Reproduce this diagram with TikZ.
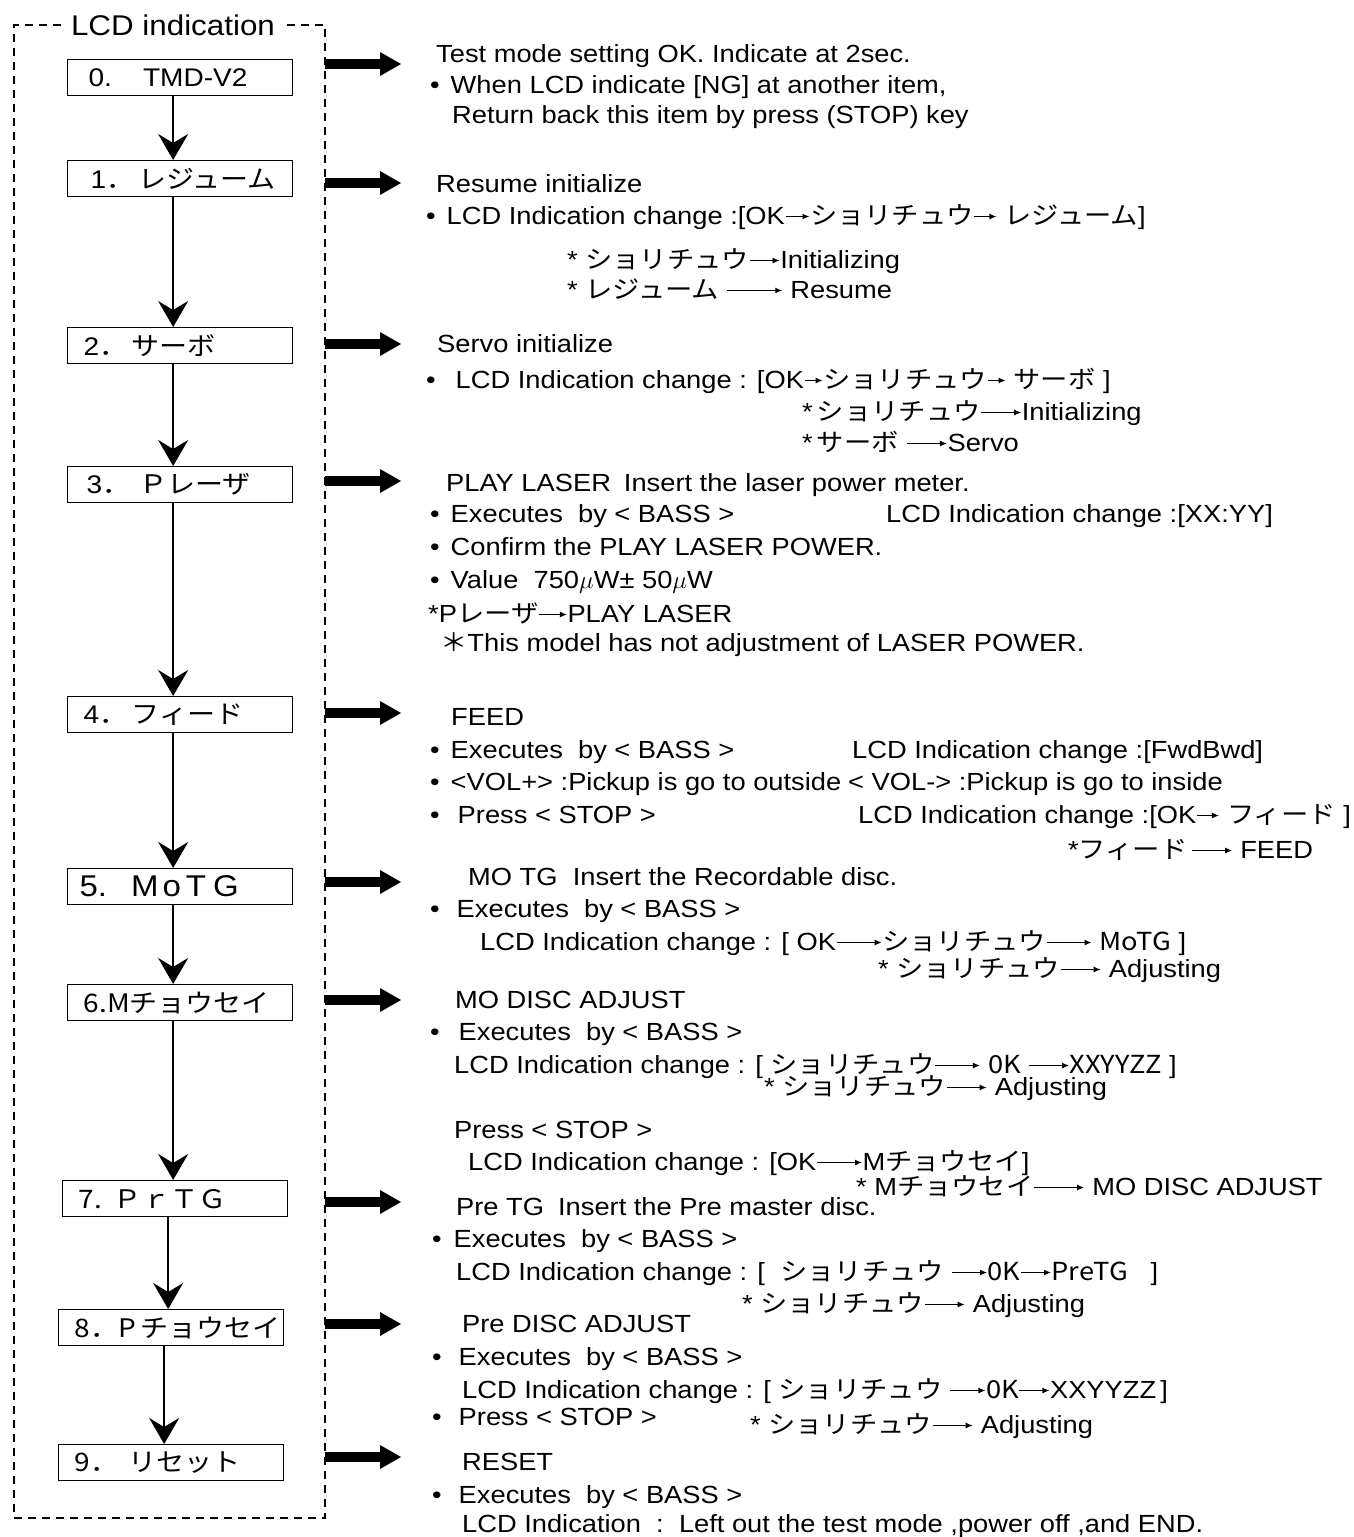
\documentclass[tikz,border=0pt]{standalone}
\usepackage{fontspec}
\setmainfont{Liberation Sans}[FakeStretch=1.1]
\newfontfamily\jpfont{Noto Sans CJK JP}[FakeStretch=1.1]
\usepackage{tikz}
\usetikzlibrary{arrows.meta}
\newcommand{\kana}[1]{{\jpfont #1}}
\newcommand{\lcdto}[1][20pt]{%
  \tikz[baseline=-7.5pt]\draw[
    line width=1.2pt,
    -{Latex[length=7pt,width=6pt]}
  ] (0pt,0pt) -- (#1,0pt);%
}
\tikzset{
  txt/.style={anchor=base west, inner sep=0pt, font=\fontsize{24.8}{28}\selectfont},
  lcdbox/.style={draw, line width=1.3pt, anchor=north west, minimum height=36pt,
    text width=193pt, inner xsep=16pt, inner ysep=0pt, align=left,
    font=\fontsize{25.5}{28}\selectfont},
  flow/.style={line width=2pt, -{Stealth[length=26pt, width=30pt, inset=9pt]}},
  fatarrow/.style={line width=10pt, -{Triangle[length=21pt, width=24pt, line width=0pt]}},
  frame/.style={line width=2.5pt, dash pattern=on 8pt off 6pt}
}

\begin{document}
\begin{tikzpicture}[x=1pt, y=-1pt]
  \useasboundingbox (0,0) rectangle (1353,1537);

  \node[inner xsep=10pt, inner ysep=0pt, font=\fontsize{28.5}{30}\selectfont] (title) at (173,25) {LCD indication};
  \draw[frame] (title.west) -- (14,25) -- (14,1518) -- (325,1518) -- (325,25) -- (title.east);

  \node[lcdbox] (b0) at (67,59) {\hspace*{5pt}0.\hspace{31pt}TMD-V2};
  \node[lcdbox] (b1) at (67,160) {\hspace*{7pt}1\kana{．\,レジューム}};
  \node[lcdbox] (b2) at (67,327) {2\kana{．\,サーボ}};
  \node[lcdbox] (b3) at (67,466) {\hspace*{3pt}3\kana{．\hspace{9pt}Ｐレーザ}};
  \node[lcdbox] (b4) at (67,696) {4\kana{．\,フィード}};
  \node[lcdbox, font=\fontsize{30}{32}\selectfont] (b5) at (67,868) {\hspace*{-4pt}5.\hspace{24pt}M\hspace{4pt}o\hspace{5pt}T\hspace{7pt}G};
  \node[lcdbox] (b6) at (67,984) {\kana{6.Mチョウセイ}};
  \node[lcdbox] (b7) at (62,1180) {\kana{7.\hspace{12pt}ＰｒＴＧ}};
  \node[lcdbox] (b8) at (58,1309) {\kana{8．P\,チョウセイ}};
  \node[lcdbox] (b9) at (58,1444) {\kana{9．\hspace{10pt}リセット}};

  \foreach \a/\b in {b0/b1,b1/b2,b2/b3,b3/b4,b4/b5,b5/b6,b6/b7,b7/b8,b8/b9}
    \draw[flow] ([xshift=-7pt]\a.south) -- ([xshift=-7pt]\a.south |- \b.north);

  \foreach \y [count=\i from 0] in {64,183,344,481,713,882,1000,1202,1324,1457} {
    \coordinate (s\i) at (325,\y);
    \draw[fatarrow] (s\i) -- ++(76,0);
  }

  \node[txt] (t0a) at (436,62) {Test mode setting OK. Indicate at 2sec.};
  \node[txt] (t0b) at (430,93) {•\hspace{11pt}When LCD indicate [NG] at another item,};
  \node[txt] (t0c) at (452,123) {Return back this item by press (STOP) key};

  \node[txt] (t1a) at (436,192) {Resume initialize};
  \node[txt] (t1b) at (426,224) {•\hspace{11pt}LCD Indication change :[OK\lcdto[24pt]\kana{ショリチュウ}\lcdto[22pt]\ \kana{レジューム}]};
  \node[txt] (t1c) at (567,268) {*\ \kana{ショリチュウ}\lcdto[30pt]Initializing};
  \node[txt] (t1d) at (567,298) {*\ \kana{レジューム}\ \lcdto[55pt]\ Resume};

  \node[txt] (t2a) at (437,352) {Servo initialize};
  \node[txt] (t2b) at (426,388) {•\hspace{20pt}LCD Indication change : [OK\lcdto[18pt]\kana{ショリチュウ}\lcdto[18pt]\ \kana{サーボ}\ ]};
  \node[txt] (t2c) at (802,420) {*\,\kana{ショリチュウ}\lcdto[40pt]Initializing};
  \node[txt] (t2d) at (802,451) {*\,\kana{サーボ}\ \lcdto[40pt]Servo};

  \node[txt] (t3a) at (446,491) {PLAY LASER\hspace{13pt}Insert the laser power meter.};
  \node[txt] (t3b) at (430,522) {•\hspace{11pt}Executes\ \ by < BASS >};
  \node[txt] (t3c) at (886,522) {LCD Indication change :[XX:YY]};
  \node[txt] (t3d) at (430,555) {•\hspace{11pt}Confirm the PLAY LASER POWER.};
  \node[txt] (t3e) at (430,588) {•\hspace{11pt}Value\ \ 750$\mu$W± 50$\mu$W};
  \node[txt] (t3f) at (428,622) {*P\kana{レーザ}\lcdto[28pt]PLAY LASER};
  \node[txt] (t3g) at (440,651) {\kana{＊}This model has not adjustment of LASER POWER.};

  \node[txt] (t4a) at (451,725) {FEED};
  \node[txt] (t4b) at (430,758) {•\hspace{11pt}Executes\ \ by < BASS >};
  \node[txt] (t4c) at (852,758) {LCD Indication change :[FwdBwd]};
  \node[txt] (t4d) at (430,790) {•\hspace{11pt}<VOL+> :Pickup is go to outside};
  \node[txt] (t4e) at (848,790) {< VOL-> :Pickup is go to inside};
  \node[txt] (t4f) at (430,823) {•\hspace{18pt}Press < STOP >};
  \node[txt] (t4g) at (858,823) {LCD Indication change :[OK\lcdto[22pt]\ \kana{フィード}\ ]};
  \node[txt] (t4h) at (1068,858) {*\kana{フィード}\,\lcdto[40pt]\ FEED};

  \node[txt] (t5a) at (468,885) {MO TG\ \ Insert the Recordable disc.};
  \node[txt] (t5b) at (430,917) {•\hspace{17pt}Executes\ \ by < BASS >};
  \node[txt] (t5c) at (480,950) {LCD Indication change : [ OK\lcdto[45pt]\kana{ショリチュウ}\lcdto[45pt]\ \kana{MoTG}\ ]};
  \node[txt] (t5d) at (878,977) {*\ \kana{ショリチュウ}\lcdto[40pt]\ Adjusting};

  \node[txt] (t6a) at (455,1008) {MO DISC ADJUST};
  \node[txt] (t6b) at (430,1040) {•\hspace{19pt}Executes\ \ by < BASS >};
  \node[txt] (t6c) at (454,1073) {LCD Indication change : [ \kana{ショリチュウ}\lcdto[45pt]\ \kana{0K}\ \lcdto[40pt]\kana{XXYYZZ}\ ]};
  \node[txt] (t6d) at (764,1095) {*\ \kana{ショリチュウ}\lcdto[40pt]\ Adjusting};
  \node[txt] (t6e) at (454,1138) {Press < STOP >};
  \node[txt] (t6f) at (468,1170) {LCD Indication change : [OK\lcdto[45pt]M\kana{チョウセイ}]};
  \node[txt] (t6g) at (856,1195) {*\ M\kana{チョウセイ}\lcdto[50pt]\ MO DISC ADJUST};

  \node[txt] (t7a) at (456,1215) {Pre TG\hspace{14pt}Insert the Pre master disc.};
  \node[txt] (t7b) at (432,1247) {•\hspace{12pt}Executes\ \ by < BASS >};
  \node[txt] (t7c) at (456,1280) {LCD Indication change : [\ \ \kana{ショリチュウ}\ \lcdto[35pt]\kana{0K}\lcdto[30pt]\kana{PreTG}\ \ \ ]};
  \node[txt] (t7d) at (742,1312) {*\ \kana{ショリチュウ}\lcdto[40pt]\ Adjusting};

  \node[txt] (t8a) at (462,1332) {Pre DISC ADJUST};
  \node[txt] (t8b) at (432,1365) {•\hspace{17pt}Executes\ \ by < BASS >};
  \node[txt] (t8c) at (462,1398) {LCD Indication change : [\ \kana{ショリチュウ}\ \lcdto[35pt]\kana{0K}\lcdto[30pt]XXYYZZ\,]};
  \node[txt] (t8d) at (432,1425) {•\hspace{17pt}Press < STOP >};
  \node[txt] (t8e) at (750,1433) {*\ \kana{ショリチュウ}\lcdto[40pt]\ Adjusting};

  \node[txt] (t9a) at (462,1470) {RESET};
  \node[txt] (t9b) at (432,1503) {•\hspace{17pt}Executes\ \ by < BASS >};
  \node[txt] (t9c) at (462,1532) {LCD Indication\ \ :\ \ Left out the test mode ,power off ,and END.};
\end{tikzpicture}
\end{document}
